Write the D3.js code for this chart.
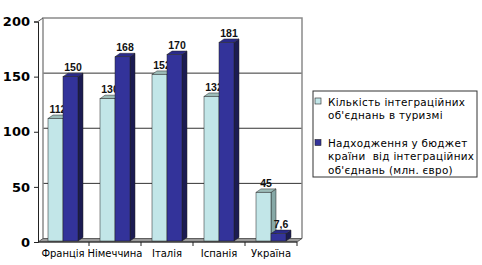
<!DOCTYPE html>
<html>
<head>
<meta charset="utf-8">
<script src="https://cdn.jsdelivr.net/npm/d3@7"></script>
<style>
  body { margin: 0; background: #fff; }
  svg { display: block; }
</style>
</head>
<body>
<svg id="chart" width="482" height="265"></svg>
<script>
const categories = ["Франція", "Німеччина", "Італія", "Іспанія", "Україна"];
const unions = [112, 130, 152, 132, 45];
const revenue = [150, 168, 170, 181, 7.6];
const revenueLabels = ["150", "168", "170", "181", "7,6"];
const yTicks = [0, 50, 100, 150, 200];
const seriesNames = [
  ["Кількість інтеграційних", "об'єднань в туризмі"],
  ["Надходження у бюджет", "країни  від інтеграційних", "об'єднань (млн. євро)"]
];

const series = [
  { values: unions, labels: unions.map(String), front: "#c2e6e8", top: "#9dbdb9", side: "#86a8a6" },
  { values: revenue, labels: revenueLabels, front: "#33339a", top: "#2a2a8a", side: "#1b1b52" }
];

const svg = d3.select("#chart");
const dx = 5, dy = -3.5;  // 3d depth

const x = d3.scaleBand().domain(categories).range([37, 297]);
const xs = d3.scaleBand().domain([0, 1]).range([11, 41]);
const y = d3.scaleLinear().domain([0, 200]).range([242, 21.5]);

const x0 = 38, x1 = 297;

// back wall
svg.append("rect")
  .attr("x", x0 + dx).attr("y", y(200) + dy)
  .attr("width", x1 - x0).attr("height", y(0) - y(200))
  .attr("fill", "#fff");

// gridlines on back wall
svg.append("g").selectAll("line")
  .data(yTicks.slice(1, -1))
  .join("line")
    .attr("x1", x0 + dx).attr("x2", x1 + dx)
    .attr("y1", d => y(d) + dy).attr("y2", d => y(d) + dy)
    .attr("stroke", "#333").attr("stroke-width", 1);

// wall borders
svg.append("path")
  .attr("d", `M${x0 + dx},${y(0) + dy}V${y(200) + dy}H${x1 + dx}V${y(0) + dy}`)
  .attr("fill", "none").attr("stroke", "#8a8a8a").attr("stroke-width", 1.5);
svg.append("path")
  .attr("d", `M${x0},${y(200)}L${x0 + dx},${y(200) + dy}`)
  .attr("fill", "none").attr("stroke", "#555");

// floor
svg.append("path")
  .attr("d", `M${x0},${y(0)}L${x1},${y(0)}L${x1 + dx},${y(0) + dy}L${x0 + dx},${y(0) + dy}Z`)
  .attr("fill", "#9a9a9a").attr("stroke", "#444").attr("stroke-width", 0.8);

// bars
const bars = svg.append("g");
categories.forEach((c, i) => {
  series.forEach((s, j) => {
    const bx = x(c) + xs(j), bw = xs.bandwidth();
    const by = y(s.values[i]), bb = y(0) - 1;
    const g = bars.append("g");
    g.append("path")
      .attr("d", `M${bx + bw},${bb}L${bx + bw + dx},${bb + dy}L${bx + bw + dx},${by + dy}L${bx + bw},${by}Z`)
      .attr("fill", s.side).attr("stroke", "#222").attr("stroke-width", 0.5);
    g.append("path")
      .attr("d", `M${bx},${by}L${bx + dx},${by + dy}L${bx + bw + dx},${by + dy}L${bx + bw},${by}Z`)
      .attr("fill", s.top).attr("stroke", "#222").attr("stroke-width", 0.5);
    g.append("rect")
      .attr("x", bx).attr("y", by).attr("width", bw).attr("height", bb - by)
      .attr("fill", s.front).attr("stroke", "#222").attr("stroke-width", 0.5);
    g.append("text")
      .attr("x", bx + bw / 2 + dx / 2).attr("y", by + dy - 2)
      .attr("text-anchor", "middle")
      .style("font", "bold 10.5px 'Liberation Sans', Arial, sans-serif")
      .attr("fill", "#111")
      .text(s.labels[i]);
  });
});

// y axis
const yAxis = svg.append("g")
  .attr("transform", `translate(${x0},0)`)
  .call(d3.axisLeft(y).tickValues(yTicks).tickSize(4).tickPadding(4));
yAxis.select(".domain").attr("stroke", "#222");
yAxis.selectAll(".tick line").attr("stroke", "#222");
yAxis.selectAll("text")
  .style("font", "bold 13px 'DejaVu Sans', sans-serif")
  .attr("fill", "#000");

// x axis
const xAxis = svg.append("g")
  .attr("transform", `translate(0,${y(0)})`)
  .call(d3.axisBottom(x).tickSize(0).tickPadding(8));
xAxis.select(".domain").attr("stroke", "#222").attr("d", `M${x0},0H${x1}`);
xAxis.selectAll("text")
  .style("font", "10px 'DejaVu Sans', sans-serif")
  .attr("fill", "#000");
svg.append("g").selectAll("line")
  .data(categories)
  .join("line")
    .attr("x1", d => x(d) + x.bandwidth()).attr("x2", d => x(d) + x.bandwidth())
    .attr("y1", y(0)).attr("y2", y(0) + 4)
    .attr("stroke", "#222");

// legend
const legend = svg.append("g");
legend.append("rect")
  .attr("x", 313).attr("y", 91).attr("width", 164).attr("height", 86)
  .attr("fill", "#fff").attr("stroke", "#333").attr("stroke-width", 1);
const legendY = [101.5, 143];
seriesNames.forEach((lines, j) => {
  legend.append("rect")
    .attr("x", 315).attr("y", legendY[j] - 3.5).attr("width", 6).attr("height", 6)
    .attr("fill", series[j].front).attr("stroke", "#222").attr("stroke-width", 0.6);
  const t = legend.append("text")
    .attr("y", legendY[j] + 4)
    .attr("font-family", "'DejaVu Sans', sans-serif")
    .attr("font-size", 10.4)
    .attr("letter-spacing", 0.3)
    .attr("fill", "#000");
  lines.forEach((l, k) => {
    t.append("tspan").attr("x", 328).attr("dy", k === 0 ? 0 : 13.4)
      .attr("xml:space", "preserve").text(l);
  });
});
</script>
</body>
</html>
